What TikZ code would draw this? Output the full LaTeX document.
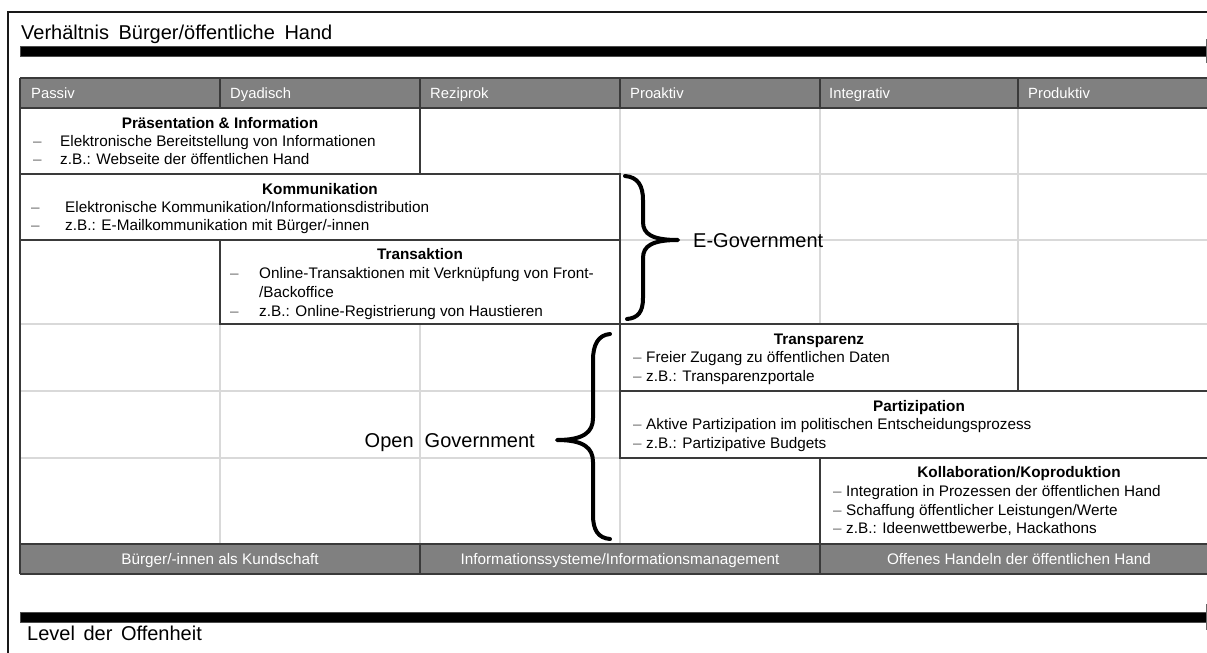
\documentclass[tikz,border=0pt]{standalone}
\usepackage{fontspec}
\setmainfont{Liberation Sans}
\definecolor{hdrgray}{HTML}{808080}
\definecolor{darkline}{HTML}{3A3A3A}
\definecolor{gridgray}{HTML}{D9D9D9}
\definecolor{dashgray}{HTML}{707070}
\begin{document}
\begin{tikzpicture}[x=1pt,y=-1pt,
  hdr/.style={font=\fontsize{14.8}{17}\selectfont, text=white, anchor=base west, inner sep=0pt},
  ftr/.style={font=\fontsize{15.3}{17}\selectfont, text=white, anchor=base, inner sep=0pt},
  body/.style={font=\fontsize{15.3}{18}\selectfont, anchor=base west, inner sep=0pt},
  bul/.style={font=\fontsize{15.3}{18}\selectfont, text=dashgray, anchor=base west, inner sep=0pt},
  boxtitle/.style={font=\fontsize{15.3}{18}\selectfont\bfseries, anchor=base, inner sep=0pt},
  big/.style={font=\fontsize{20}{24}\selectfont, inner sep=0pt},
  grid/.style={draw=gridgray, line width=1.5pt},
  cellbox/.style={draw=darkline, fill=white, line width=1.5pt},
  dline/.style={draw=darkline, line width=1.5pt},
  brace/.style={draw=black, line width=4pt, line cap=round, line join=round},
  bar/.style={fill=black, draw=black!70, line width=0.6pt}
]
\useasboundingbox (0,0) rectangle (1207,653);
\clip (0,0) rectangle (1207,653);
\fill[white] (0,0) rectangle (1207,653);

% outer frame
\draw[line width=2.2pt, black!90] (8,660) -- (8,12) -- (1215,12);

% title and top arrow bar
\node[big, anchor=base west] (title) at (21,39) {Verhältnis\hspace{4pt} Bürger/öffentliche\hspace{4pt} Hand};
\path[bar] (20,46) rectangle (1215,56);
\draw[black!60, line width=0.8pt] (1206,39) -- (1206,63);

% light grid of the table body
\foreach \yy in {174,240,324,391,458} \draw[grid] (20,\yy) -- (1220,\yy);
\foreach \xx in {220,420,620,820,1018} \draw[grid] (\xx,108) -- (\xx,544);

% header row
\fill[hdrgray] (20,78) rectangle (1220,108);
\draw[dline] (20,78) -- (1220,78);
\draw[dline] (20,108) -- (1220,108);
\foreach \xx in {220,420,620,820,1018} \draw[dline] (\xx,78) -- (\xx,108);
\node[hdr] (h1) at (31,98) {Passiv};
\node[hdr] (h2) at (230,98) {Dyadisch};
\node[hdr] (h3) at (430,98) {Reziprok};
\node[hdr] (h4) at (630,98) {Proaktiv};
\node[hdr] (h5) at (829,98) {Integrativ};
\node[hdr] (h6) at (1028,98) {Produktiv};

% boxes
\draw[cellbox] (20,108) rectangle (420,174);
\draw[cellbox] (20,174) rectangle (620,240);
\draw[cellbox] (220,240) rectangle (620,324);
\draw[cellbox] (620,324) rectangle (1018,391);
\draw[cellbox] (620,391) rectangle (1220,458);
\draw[cellbox] (820,458) rectangle (1220,544);

% footer row
\fill[hdrgray] (20,544) rectangle (1220,574);
\draw[dline] (20,544) -- (1220,544);
\draw[dline] (20,574) -- (1220,574);
\draw[dline] (420,544) -- (420,574);
\draw[dline] (820,544) -- (820,574);
\draw[dline] (20,78) -- (20,574);
\node[ftr] (f1) at (220,564.5) {Bürger/-innen als Kundschaft};
\node[ftr] (f2) at (620,564.5) {Informationssysteme/Informationsmanagement};
\node[ftr] (f3) at (1019,564.5) {Offenes Handeln der öffentlichen Hand};

% Praesentation & Information
\node[boxtitle] (pt) at (220,128.5) {Präsentation \& Information};
\node[bul] (pd1) at (33,146.5) {–};
\node[body] (pl1) at (60,146.5) {Elektronische Bereitstellung von Informationen};
\node[bul] (pd2) at (33,164.5) {–};
\node[body] (pl2) at (60,164.5) {z.B.: Webseite der öffentlichen Hand};

% Kommunikation
\node[boxtitle] (kt) at (320,194.5) {Kommunikation};
\node[bul] (kd1) at (31,212.5) {–};
\node[body] (kl1) at (65,212.5) {Elektronische Kommunikation/Informationsdistribution};
\node[bul] (kd2) at (31,230.5) {–};
\node[body] (kl2) at (65,230.5) {z.B.: E-Mailkommunikation mit Bürger/-innen};

% Transaktion
\node[boxtitle] (tt) at (420,259.5) {Transaktion};
\node[bul] (td1) at (230,278.5) {–};
\node[body] (tl1) at (259,278.5) {Online-Transaktionen mit Verknüpfung von Front-};
\node[body] (tl2) at (259,297.5) {/Backoffice};
\node[bul] (td2) at (230,316.5) {–};
\node[body] (tl3) at (259,316.5) {z.B.: Online-Registrierung von Haustieren};

% Transparenz
\node[boxtitle] (trt) at (819,344.5) {Transparenz};
\node[bul] (trd1) at (633,362.5) {–};
\node[body] (trl1) at (646,362.5) {Freier Zugang zu öffentlichen Daten};
\node[bul] (trd2) at (633,381.5) {–};
\node[body] (trl2) at (646,381.5) {z.B.: Transparenzportale};

% Partizipation
\node[boxtitle] (pat) at (919,411.5) {Partizipation};
\node[bul] (pad1) at (633,429.5) {–};
\node[body] (pal1) at (646,429.5) {Aktive Partizipation im politischen Entscheidungsprozess};
\node[bul] (pad2) at (633,448) {–};
\node[body] (pal2) at (646,448) {z.B.: Partizipative Budgets};

% Kollaboration/Koproduktion
\node[boxtitle] (kot) at (1019,477.5) {Kollaboration/Koproduktion};
\node[bul] (kod1) at (833,496.5) {–};
\node[body] (kol1) at (846,496.5) {Integration in Prozessen der öffentlichen Hand};
\node[bul] (kod2) at (833,515) {–};
\node[body] (kol2) at (846,515) {Schaffung öffentlicher Leistungen/Werte};
\node[bul] (kod3) at (833,533.5) {–};
\node[body] (kol3) at (846,533.5) {z.B.: Ideenwettbewerbe, Hackathons};

% E-Government brace
\draw[brace] (625,176) .. controls (638,177) and (643,186) .. (643,200) -- (643,222)
  .. controls (643,234) and (652,240) .. (678,240)
  .. controls (652,240) and (643,246) .. (643,258) -- (643,298)
  .. controls (643,312) and (638,318) .. (627,319);
\node[big, anchor=base west] (egov) at (693,247) {E-Government};

% Open Government brace
\draw[brace] (610,334) .. controls (598,335) and (593,345) .. (593,360) -- (593,418)
  .. controls (593,432) and (584,440) .. (557,440)
  .. controls (584,440) and (593,448) .. (593,462) -- (593,515)
  .. controls (593,530) and (598,538) .. (610,539);
\node[big, anchor=base east] (ogov) at (535,447) {Open\ \ Government};

% bottom arrow bar
\path[bar] (20,612) rectangle (1215,622);
\draw[black!60, line width=0.8pt] (1206,604) -- (1206,630);
\node[big, anchor=base west] (level) at (27,640) {Level\hspace{3pt} der\hspace{3pt} Offenheit};
\end{tikzpicture}
\end{document}
